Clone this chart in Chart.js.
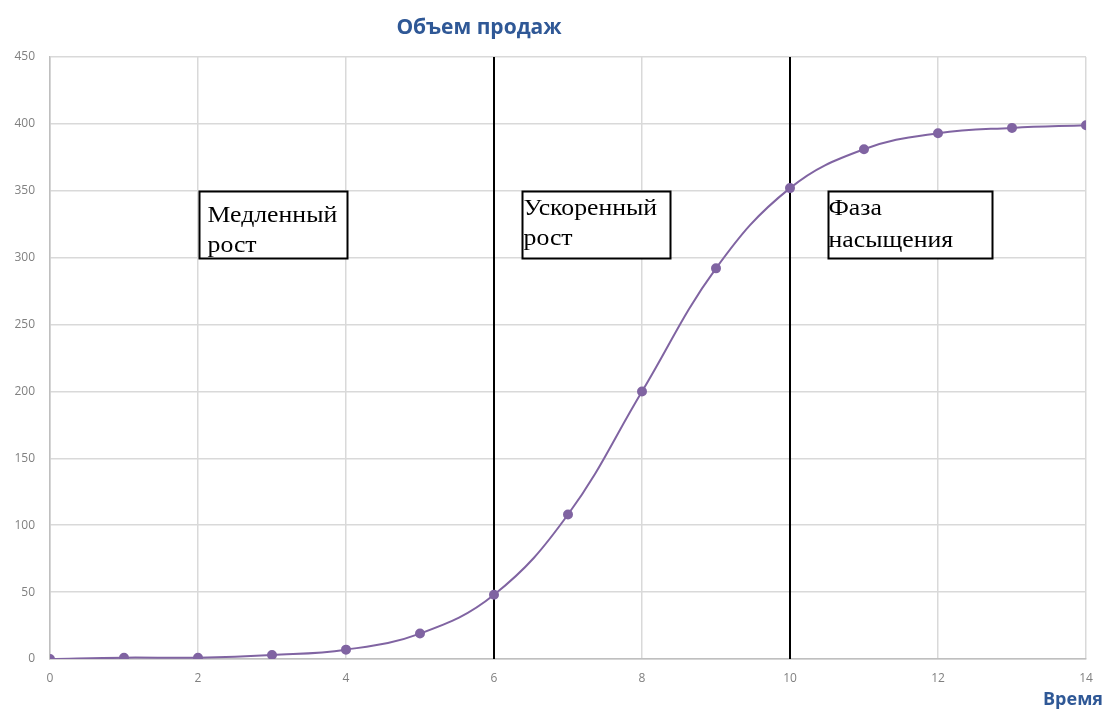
<!DOCTYPE html>
<html>
<head>
<meta charset="utf-8">
<script src="https://cdn.jsdelivr.net/npm/chart.js@4/dist/chart.umd.min.js"></script>
<style>
  html, body { margin: 0; padding: 0; background: #ffffff; }
  #wrap { width: 1109px; height: 713px; position: relative; }
</style>
</head>
<body>
<div id="wrap"><canvas id="c" width="1109" height="713"></canvas></div>
<script>
// Sales volume over time (S-curve)
const timePoints = [0, 1, 2, 3, 4, 5, 6, 7, 8, 9, 10, 11, 12, 13, 14];
const salesVolume = [0, 1, 1, 3, 7, 19, 48, 108, 200, 292, 352, 381, 393, 397, 399];
const phaseBoundaries = [6, 10];
const phaseLabels = [["Медленный", "рост"], ["Ускоренный", "рост"], ["Фаза", "насыщения"]];
const xTicks = [0, 2, 4, 6, 8, 10, 12, 14];
const yTicks = [0, 50, 100, 150, 200, 250, 300, 350, 400, 450];
const chartTitle = "Объем продаж";
const xAxisTitle = "Время";

const salesPoints = timePoints.map((t, i) => ({ x: t, y: salesVolume[i] }));

const boundaryDatasets = phaseBoundaries.map(b => ({
  data: [{ x: b, y: 0 }, { x: b, y: 450 }],
  borderColor: '#000000',
  borderWidth: 2,
  pointRadius: 0,
  showLine: true,
  tension: 0,
  order: 2
}));

// phase label boxes, placed in data units; text offsets in pixels
const boxSpecs = [
  { x0: 2.02, x1: 4.02, y0: 350, y1: 300, dx: 8, dy: 30, lh: 30 },
  { x0: 6.38, x1: 8.38, y0: 350, y1: 300, dx: 1, dy: 23, lh: 30 },
  { x0: 10.52, x1: 12.73, y0: 350, y1: 300, dx: 0, dy: 23, lh: 32 }
];

const overlayPlugin = {
  id: 'overlay',
  afterDraw(chart) {
    const ctx = chart.ctx;
    const xs = chart.scales.x, ys = chart.scales.y;
    ctx.save();
    boxSpecs.forEach((b, i) => {
      const l = Math.round(xs.getPixelForValue(b.x0)) + 0.5;
      const r = Math.round(xs.getPixelForValue(b.x1)) + 0.5;
      const t = Math.round(ys.getPixelForValue(b.y0)) + 0.5;
      const bt = Math.round(ys.getPixelForValue(b.y1)) + 0.5;
      ctx.fillStyle = '#ffffff';
      ctx.fillRect(l, t, r - l, bt - t);
      ctx.save();
      ctx.beginPath();
      ctx.rect(l, t, r - l, bt - t + 1);
      ctx.clip();
      ctx.font = '23px "Liberation Serif", "Times New Roman", serif';
      ctx.fillStyle = '#000000';
      ctx.textAlign = 'left';
      ctx.textBaseline = 'alphabetic';
      phaseLabels[i].forEach((line, k) => {
        ctx.save();
        ctx.translate(l + b.dx, t + b.dy + k * b.lh);
        ctx.scale(1.12, 1);
        ctx.fillText(line, 0, 0);
        ctx.restore();
      });
      ctx.restore();
      ctx.strokeStyle = '#000000';
      ctx.lineWidth = 2;
      ctx.strokeRect(l, t, r - l, bt - t);
    });
    // chart and axis titles
    ctx.fillStyle = '#2F5896';
    ctx.textBaseline = 'middle';
    ctx.font = 'bold 21px "Open Sans", "Liberation Sans", sans-serif';
    ctx.textAlign = 'center';
    ctx.fillText(chartTitle, 479, 28);
    ctx.font = 'bold 18px "Open Sans", "Liberation Sans", sans-serif';
    ctx.textAlign = 'right';
    ctx.fillText(xAxisTitle, 1103, 700);
    ctx.restore();
  }
};

new Chart(document.getElementById('c'), {
  type: 'scatter',
  data: {
    datasets: [
      {
        data: salesPoints,
        borderColor: '#8064A2',
        backgroundColor: '#8064A2',
        borderWidth: 2,
        pointRadius: 4,
        pointHoverRadius: 4,
        showLine: true,
        tension: 0.4,
        order: 1
      },
      ...boundaryDatasets
    ]
  },
  options: {
    responsive: false,
    animation: false,
    events: [],
    layout: { padding: { left: 0, top: 57, right: 23, bottom: 0 } },
    plugins: {
      legend: { display: false },
      tooltip: { enabled: false },
      title: { display: false }
    },
    scales: {
      x: {
        type: 'linear',
        min: 0,
        max: 14,
        afterBuildTicks(scale) { scale.ticks = xTicks.map(v => ({ value: v })); },
        afterFit(scale) { scale.height = 54; },
        grid: { color: '#d9d9d9', lineWidth: 1.5, drawTicks: false },
        border: { color: '#bfbfbf', width: 1.5 },
        ticks: {
          color: '#808080',
          padding: 12,
          font: { family: '"Open Sans", "Liberation Sans", sans-serif', size: 12 }
        }
      },
      y: {
        type: 'linear',
        min: 0,
        max: 450,
        afterBuildTicks(scale) { scale.ticks = yTicks.map(v => ({ value: v })); },
        afterFit(scale) { scale.width = 50; },
        grid: { color: '#d9d9d9', lineWidth: 1.5, drawTicks: false },
        border: { color: '#bfbfbf', width: 1.5 },
        ticks: {
          color: '#808080',
          padding: 15,
          font: { family: '"Open Sans", "Liberation Sans", sans-serif', size: 12 }
        }
      }
    }
  },
  plugins: [overlayPlugin]
});
</script>
</body>
</html>
